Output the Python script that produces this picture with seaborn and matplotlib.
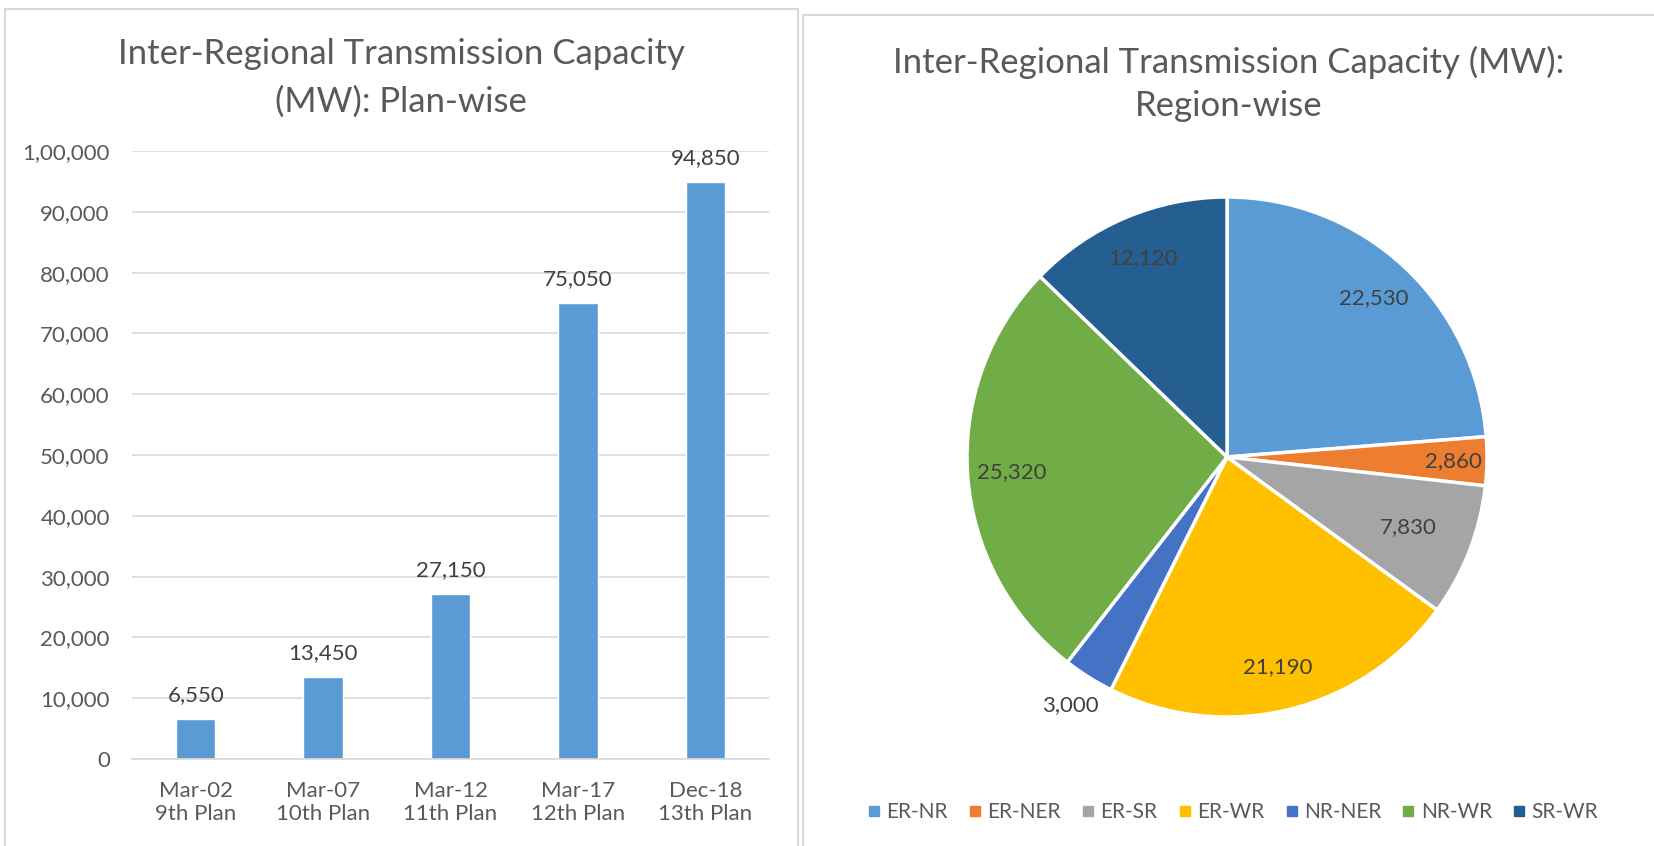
import matplotlib
matplotlib.use("Agg")
import matplotlib.pyplot as plt
from matplotlib.lines import Line2D
from matplotlib.patches import Rectangle
from matplotlib.ticker import FuncFormatter
import seaborn as sns

# ---- data ----
plan_labels = ["Mar-02\n9th Plan", "Mar-07\n10th Plan", "Mar-12\n11th Plan",
               "Mar-17\n12th Plan", "Dec-18\n13th Plan"]
plan_capacity = [6550, 13450, 27150, 75050, 94850]

regions = ["ER-NR", "ER-NER", "ER-SR", "ER-WR", "NR-NER", "NR-WR", "SR-WR"]
region_capacity = [22530, 2860, 7830, 21190, 3000, 25320, 12120]
region_colors = ["#5B9BD5", "#ED7D31", "#A5A5A5", "#FFC000",
                 "#4472C4", "#70AD47", "#255E91"]

sns.set_theme(style="white")
plt.rcParams["font.family"] = ["Lato", "DejaVu Sans"]

W, H = 1654, 846
TEXT = "#595959"
LABEL = "#404040"
GRID = "#D9D9D9"


def indian(v, pos=None):
    """Format numbers with Indian digit grouping (1,00,000)."""
    s = str(int(round(v)))
    if len(s) <= 3:
        return s
    head, tail = s[:-3], s[-3:]
    groups = []
    while len(head) > 2:
        groups.insert(0, head[-2:])
        head = head[:-2]
    if head:
        groups.insert(0, head)
    return ",".join(groups + [tail])


fig = plt.figure(figsize=(W / 100, H / 100), dpi=100)

# panel frames
fig.patches.append(Rectangle((5 / W, -0.05), 793 / W, 1.05 - 9 / H, transform=fig.transFigure,
                             fill=False, edgecolor=GRID, linewidth=1.5))
fig.patches.append(Rectangle((803 / W, -0.05), 900 / W, 1.05 - 15 / H, transform=fig.transFigure,
                             fill=False, edgecolor=GRID, linewidth=1.5))

# ---- bar chart ----
ax = fig.add_axes([132 / W, 1 - 759 / H, 637 / W, 608 / H])
sns.barplot(x=plan_labels, y=plan_capacity, color="#5B9BD5", saturation=1,
            width=0.31, ax=ax)
ax.set_ylim(0, 100000)
ax.set_yticks(range(0, 100001, 10000))
ax.yaxis.set_major_formatter(FuncFormatter(indian))
ax.grid(axis="y", color=GRID, linewidth=1.2)
ax.set_axisbelow(True)
for side in ["top", "right", "left"]:
    ax.spines[side].set_visible(False)
ax.spines["bottom"].set_color(GRID)
ax.spines["bottom"].set_linewidth(1.2)
ax.tick_params(axis="y", length=0, pad=16, labelsize=16, labelcolor=TEXT)
ax.tick_params(axis="x", length=0, pad=16, labelsize=16, labelcolor=TEXT)
ax.set_xlabel("")
ax.set_ylabel("")
ax.bar_label(ax.containers[0], labels=[indian(v) for v in plan_capacity],
             padding=10, fontsize=16, color=LABEL)
fig.text(401 / W, 1 - 78 / H, "Inter-Regional Transmission Capacity\n(MW): Plan-wise",
         ha="center", va="center", fontsize=25, color=TEXT, linespacing=1.58)

# ---- pie chart ----
R = 260
cx, cy = 1227, 457
pax = fig.add_axes([(cx - R) / W, 1 - (cy + R) / H, 2 * R / W, 2 * R / H])
total = sum(region_capacity)
wedges, texts, autotexts = pax.pie(
    region_capacity, colors=region_colors, startangle=90, counterclock=False,
    autopct=lambda p: indian(p * total / 100), pctdistance=0.83,
    wedgeprops=dict(edgecolor="white", linewidth=2.5),
    textprops=dict(fontsize=16, color=LABEL))
# nudge a few labels radially, like Excel's best-fit placement
for i, k in {1: 1.05, 2: 0.9, 4: 1.36}.items():
    x, y = autotexts[i].get_position()
    autotexts[i].set_position((x * k, y * k))
pax.set_xlim(-1, 1)
pax.set_ylim(-1, 1)
pax.set_aspect("equal")
pax.axis("off")

fig.text(1229 / W, 1 - 84 / H, "Inter-Regional Transmission Capacity (MW):\nRegion-wise",
         ha="center", va="center", fontsize=25, color=TEXT, linespacing=1.42)

handles = [Line2D([], [], marker="s", linestyle="", color=c, markersize=7)
           for c in region_colors]
fig.legend(handles, regions, loc="center", bbox_to_anchor=(1233 / W, 1 - 812 / H),
           ncol=7, frameon=False, fontsize=15, labelcolor=TEXT,
           handlelength=0.6, handletextpad=0.3, columnspacing=1.0)

fig.savefig("out.png", dpi=100)
